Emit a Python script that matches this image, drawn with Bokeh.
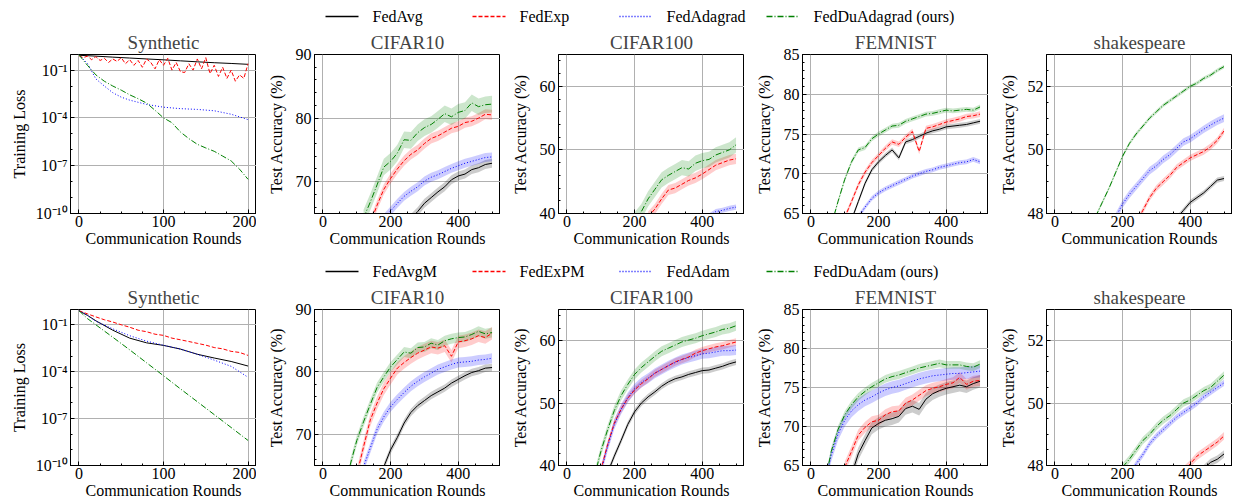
from bokeh.plotting import figure
from bokeh.layouts import column, row
from bokeh.models import (Range1d, SingleIntervalTicker, FixedTicker,
                          CustomJSTickFormatter)
from bokeh.core.properties import value
from bokeh.embed import file_html
from bokeh.resources import INLINE

FONT = "Liberation Serif"

# ---------------- labels ----------------
METHODS_TOP = ["FedAvg", "FedExp", "FedAdagrad", "FedDuAdagrad (ours)"]
METHODS_BOT = ["FedAvgM", "FedExPM", "FedAdam", "FedDuAdam (ours)"]
DATASETS = ["Synthetic", "CIFAR10", "CIFAR100", "FEMNIST", "shakespeare"]
COLORS = ["black", "#ff0000", "#0000ff", "#008000"]
DASHES = ["solid", "4 2", "1 2", "6 2 1 2"]

# ---------------- Synthetic (training loss, log scale) ----------------
SYN_TOP_R_FEDAVG = [0, 20, 40, 60, 80, 100, 120, 140, 160, 180, 200]
SYN_TOP_FEDAVG = [0.85, 0.75, 0.65, 0.57, 0.50, 0.44, 0.38, 0.33, 0.29, 0.26, 0.23]
SYN_TOP_R_FEDEXP = list(range(0, 201, 5))
SYN_TOP_FEDEXP = [0.8, 0.6, 0.75, 0.45, 0.7, 0.4, 0.55, 0.3, 0.5, 0.35, 0.6, 0.25, 0.45, 0.2,
                  0.4, 0.15, 0.5, 0.3, 0.12, 0.45, 0.2, 0.55, 0.1, 0.3, 0.08, 0.07, 0.25, 0.1,
                  0.5, 0.12, 0.6, 0.06, 0.2, 0.04, 0.15, 0.03, 0.1, 0.02, 0.05, 0.03, 0.25]
SYN_TOP_R_FEDADAGRAD = [0, 10, 20, 30, 40, 50, 60, 80, 100, 120, 140, 160, 180, 200]
SYN_TOP_FEDADAGRAD = [0.9, 0.26, 0.028, 0.01, 3.8e-3, 2e-3, 1.3e-3, 7e-4, 4.7e-4, 3.8e-4,
                      3.4e-4, 2.8e-4, 1.7e-4, 7.8e-5]
SYN_TOP_R_FEDDU = list(range(0, 201, 10))
SYN_TOP_FEDDU = [0.9, 0.2, 0.05, 0.02, 0.01, 5.5e-3, 2.8e-3, 1.6e-3, 8.5e-4, 3e-4, 1e-4,
                 5e-5, 1.3e-5, 5e-6, 2.2e-6, 1.3e-6, 8e-7, 4e-7, 2e-7, 6e-8, 1.4e-8]

SYN_BOT_R_FEDAVGM = [0, 10, 20, 40, 60, 80, 100, 120, 140, 160, 180, 200]
SYN_BOT_FEDAVGM = [0.8, 0.4, 0.18, 0.045, 0.014, 7e-3, 4.8e-3, 2.8e-3, 1.3e-3, 7.5e-4, 4.5e-4, 2.3e-4]
SYN_BOT_R_FEDEXPM = list(range(0, 201, 10))
SYN_BOT_FEDEXPM = [0.8, 0.5, 0.32, 0.21, 0.15, 0.1, 0.07, 0.045, 0.036, 0.025, 0.021, 0.014,
                   0.011, 8.5e-3, 6.5e-3, 5e-3, 3.5e-3, 2.9e-3, 2e-3, 1.7e-3, 1.1e-3]
SYN_BOT_R_FEDADAM = [0, 10, 20, 40, 60, 80, 100, 120, 140, 160, 180, 200]
SYN_BOT_FEDADAM = [0.8, 0.4, 0.17, 0.055, 0.02, 9e-3, 4.9e-3, 2.8e-3, 1.3e-3, 5.5e-4, 2.2e-4, 4.4e-5]
SYN_BOT_R_FEDDUADAM = [0, 10, 20, 40, 60, 80, 100, 120, 140, 160, 180, 200]
SYN_BOT_FEDDUADAM = [0.8, 0.25, 0.1, 0.016, 2.5e-3, 3.7e-4, 5.5e-5, 8e-6, 1.2e-6, 1.8e-7, 2.7e-8, 4e-9]

# ---------------- test accuracy (%), evaluated every 20 rounds ----------------
EVAL_EVERY = 20

# CIFAR10, top row  (FedAvg, FedExp, FedAdagrad, FedDuAdagrad)
C10_TOP_START = [260, 140, 180, 120]
C10_TOP_FEDAVG = [64.2, 65.3, 66.6, 67.5, 68.4, 69.2, 70.3, 70.9, 71.2, 71.9, 72.2, 72.7, 72.9]
C10_TOP_FEDEXP = [63.5, 66.3, 68.8, 70.5, 72.0, 73.3, 74.3, 75.0, 76.0, 76.8, 77.2, 77.8, 78.4,
                  78.7, 79.3, 79.5, 80.0, 80.6, 80.5]
C10_TOP_FEDADAGRAD = [64.2, 65.4, 66.6, 67.7, 68.5, 69.2, 70.1, 70.7, 71.1, 71.6, 72.1, 72.5,
                      72.9, 73.2, 73.5, 73.8, 73.9]
C10_TOP_FEDDU = [64.3, 66.8, 69.5, 72.3, 73.2, 74.5, 76.6, 76.5, 77.7, 78.5, 79.0, 79.8, 80.7,
                 80.2, 80.9, 81.2, 82.4, 81.8, 82.1, 82.2]
C10_TOP_BAND = [0.7, 0.8, 0.7, 1.3]

# CIFAR100, top row
C100_TOP_START = [300, 240, 400, 200]
C100_TOP_FEDAVG = [34.0, 34.8, 35.5, 36.1, 36.6, 37.0, 37.4, 37.8, 38.1, 38.4, 38.6]
C100_TOP_FEDEXP = [39.5, 40.7, 42.3, 43.7, 44.0, 44.6, 45.2, 45.6, 46.2, 46.9, 47.6, 48.0, 48.4, 48.6]
C100_TOP_FEDADAGRAD = [39.0, 39.6, 40.3, 40.5, 40.8, 41.0]
C100_TOP_FEDDU = [39.0, 40.3, 42.3, 43.8, 45.3, 46.0, 46.6, 47.2, 47.0, 47.9, 48.3, 48.5, 49.2,
                  49.6, 50.0, 50.8]
C100_TOP_BAND = [0.5, 0.8, 0.4, 1.2]

# FEMNIST, top row
FEM_TOP_START = [120, 100, 140, 60]
FEM_TOP_FEDAVG = [64.2, 66.5, 68.8, 70.5, 71.5, 72.3, 73.0, 72.0, 74.0, 74.3, 74.7, 75.1, 75.4,
                  75.6, 75.9, 76.0, 76.1, 76.2, 76.4, 76.6]
FEM_TOP_FEDEXP = [64.5, 66.5, 68.6, 70.2, 71.4, 72.3, 73.2, 74.0, 73.7, 74.6, 75.3, 72.8, 75.7,
                  75.9, 76.2, 76.5, 76.7, 76.9, 77.2, 77.3, 77.5]
FEM_TOP_FEDADAGRAD = [64.6, 65.8, 66.9, 67.6, 68.1, 68.5, 68.9, 69.3, 69.7, 70.0, 70.3, 70.5,
                      70.8, 71.0, 71.2, 71.4, 71.5, 71.8, 71.5]
FEM_TOP_FEDDU = [63.5, 66.5, 69.3, 71.5, 73.0, 73.3, 74.4, 75.0, 75.5, 76.0, 76.1, 76.6, 76.9,
                 77.2, 77.5, 77.6, 77.8, 78.0, 77.9, 78.0, 78.1, 78.0, 78.4]
FEM_TOP_BAND = [0.3, 0.35, 0.3, 0.3]

# shakespeare, top row
SH_TOP_START = [360, 240, 180, 120]
SH_TOP_FEDAVG = [47.85, 48.1, 48.35, 48.5, 48.65, 48.85, 49.05, 49.1]
SH_TOP_FEDEXP = [47.7, 48.1, 48.5, 48.8, 49.0, 49.2, 49.45, 49.6, 49.75, 49.85, 49.95, 50.1,
                 50.3, 50.6]
SH_TOP_FEDADAGRAD = [47.9, 48.3, 48.6, 48.85, 49.1, 49.35, 49.5, 49.7, 49.85, 50.05, 50.25,
                     50.35, 50.5, 50.65, 50.78, 50.9, 51.0]
SH_TOP_FEDDU = [47.9, 48.35, 48.8, 49.3, 49.8, 50.2, 50.5, 50.75, 51.0, 51.2, 51.4, 51.55, 51.7,
                51.85, 52.0, 52.1, 52.25, 52.35, 52.5, 52.62]
SH_TOP_BAND = [0.08, 0.1, 0.12, 0.06]

# CIFAR10, bottom row (FedAvgM, FedExPM, FedAdam, FedDuAdam)
C10_BOT_START = [180, 100, 120, 80]
C10_BOT_FEDAVGM = [64.8, 67.5, 69.5, 71.8, 73.5, 74.6, 75.4, 76.2, 76.8, 77.4, 78.2, 78.8, 79.4,
                   79.9, 80.2, 80.6, 80.7]
C10_BOT_FEDEXPM = [63.5, 68.0, 72.3, 75.0, 77.3, 79.0, 80.6, 81.5, 82.3, 83.0, 83.5, 84.0, 83.8,
                   84.2, 82.5, 84.8, 85.0, 85.3, 85.8, 85.5, 86.2]
C10_BOT_FEDADAM = [64.8, 67.8, 70.8, 72.8, 74.4, 75.6, 76.7, 77.7, 78.5, 79.2, 79.8, 80.4, 80.8,
                   81.2, 81.5, 81.6, 81.7, 81.9, 82.0, 82.2]
C10_BOT_FEDDU = [65.0, 69.0, 72.0, 74.8, 77.5, 79.2, 80.8, 82.0, 83.2, 83.0, 83.9, 84.0, 84.6,
                 84.3, 85.0, 85.3, 85.5, 85.6, 86.0, 86.5, 86.1, 86.3]
C10_BOT_BAND = [0.6, 1.0, 0.8, 0.8]

# CIFAR100, bottom row
C100_BOT_START = [120, 100, 100, 80]
C100_BOT_FEDAVGM = [38.8, 41.5, 44.0, 46.6, 48.6, 50.0, 51.0, 51.8, 52.7, 53.4, 53.9, 54.2, 54.6,
                    54.9, 55.2, 55.3, 55.6, 55.9, 56.3, 56.6]
C100_BOT_FEDEXPM = [39.2, 43.3, 46.8, 49.0, 50.8, 52.1, 53.1, 53.9, 54.8, 55.4, 56.0, 56.6, 57.0,
                    57.4, 58.0, 58.4, 58.7, 59.0, 59.2, 59.5, 59.8]
C100_BOT_FEDADAM = [39.0, 43.0, 46.6, 49.0, 50.9, 52.3, 53.3, 54.0, 54.8, 55.4, 56.0, 56.5, 57.0,
                    57.3, 57.6, 57.9, 58.0, 58.2, 58.4, 58.4, 58.5]
C100_BOT_FEDDU = [38.0, 42.2, 45.7, 48.8, 51.2, 53.0, 54.6, 55.7, 56.6, 57.5, 58.3, 58.8, 59.3,
                  59.8, 60.1, 60.4, 60.8, 61.1, 61.4, 61.8, 62.0, 62.4]
C100_BOT_BAND = [0.5, 0.6, 0.8, 0.8]

# FEMNIST, bottom row
FEM_BOT_START = [120, 100, 40, 40]
FEM_BOT_FEDAVGM = [63.8, 66.5, 68.2, 69.8, 70.4, 70.8, 71.0, 71.3, 72.3, 72.6, 72.2, 73.5, 74.2,
                   74.6, 74.9, 75.1, 75.3, 75.1, 75.5, 75.8]
FEM_BOT_FEDEXPM = [64.8, 66.8, 68.9, 69.9, 70.6, 70.8, 71.5, 71.9, 72.0, 73.0, 73.4, 74.0, 74.6,
                   74.9, 75.1, 75.4, 75.6, 76.3, 75.4, 75.8, 75.9]
FEM_BOT_FEDADAM = [62.5, 66.3, 69.0, 70.8, 72.0, 72.8, 73.4, 73.8, 74.3, 74.7, 75.0, 75.2, 75.5,
                   75.8, 76.1, 76.3, 76.5, 76.6, 76.7, 76.8, 76.8, 76.9, 77.0, 77.1]
FEM_BOT_FEDDU = [62.5, 66.8, 69.6, 71.5, 72.8, 73.8, 74.5, 75.1, 75.6, 76.1, 76.4, 76.6, 76.9,
                 77.2, 77.5, 77.7, 77.9, 78.1, 77.9, 77.9, 77.9, 77.7, 77.6, 78.0]
FEM_BOT_BAND = [0.8, 0.7, 0.8, 0.5]

# shakespeare, bottom row
SH_BOT_START = [440, 380, 220, 200]
SH_BOT_FEDAVGM = [47.9, 48.1, 48.2, 48.37]
SH_BOT_FEDEXPM = [47.85, 48.05, 48.3, 48.45, 48.6, 48.75, 48.95]
SH_BOT_FEDADAM = [47.7, 48.05, 48.35, 48.7, 48.95, 49.15, 49.35, 49.55, 49.7, 49.85, 50.0, 50.2,
                  50.35, 50.5, 50.65]
SH_BOT_FEDDU = [47.95, 48.2, 48.5, 48.8, 49.0, 49.25, 49.45, 49.6, 49.8, 50.0, 50.1, 50.25, 50.4,
                50.5, 50.7, 50.9]
SH_BOT_BAND = [0.12, 0.12, 0.1, 0.12]

# ---------------- layout constants ----------------
W_FIRST, W_OTHER = 256, 244
LEFT_FIRST, LEFT_OTHER = 70, 58
TOTAL_W = W_FIRST + 4 * W_OTHER
LEG_X0, LEG_STEP, LEG_SAMPLE, LEG_GAP = 325, 147, 33, 14

LOG_FMT = CustomJSTickFormatter(code="""
const sup = {'0':'\u2070','1':'\u00b9','2':'\u00b2','3':'\u00b3','4':'\u2074','5':'\u2075',
             '6':'\u2076','7':'\u2077','8':'\u2078','9':'\u2079','-':'\u207b'};
const e = Math.round(Math.log10(tick));
return '10' + String(e).split('').map(c => sup[c]).join('');
""")


def style(p, ylabel, ystand):
    p.title.text_font = FONT
    p.title.text_font_size = "19px"
    p.title.text_font_style = "normal"
    p.title.align = "center"
    p.title.standoff = 3
    for ax in p.axis:
        ax.major_label_text_font = FONT
        ax.major_label_text_font_size = "16px"
        ax.major_label_text_color = "black"
        ax.axis_label_text_font = FONT
        ax.axis_label_text_font_size = "16px"
        ax.axis_label_text_font_style = "normal"
        ax.axis_label_text_color = "black"
        ax.major_tick_in = 4
        ax.major_tick_out = 0
        ax.minor_tick_in = 2
        ax.minor_tick_out = 0
        ax.axis_line_color = "black"
        ax.major_tick_line_color = "black"
        ax.minor_tick_line_color = "black"
    p.xaxis.major_label_standoff = 2
    p.yaxis.major_label_standoff = 3
    p.xaxis.axis_label = "Communication Rounds"
    p.xaxis.axis_label_standoff = 0
    p.yaxis.axis_label = ylabel
    p.yaxis.axis_label_standoff = ystand
    p.grid.grid_line_color = "#b0b0b0"
    p.grid.grid_line_width = 1
    p.outline_line_color = "black"
    p.outline_line_alpha = 1
    p.outline_line_width = 1


def make_syn(title, rounds_list, vals_list, h, top, bottom):
    p = figure(width=W_FIRST, height=h, title=title, y_axis_type="log",
               x_range=Range1d(-10, 210), y_range=Range1d(1e-10, 0.95),
               output_backend="svg", toolbar_location=None,
               min_border_left=LEFT_FIRST, min_border_right=0,
               min_border_top=top, min_border_bottom=bottom)
    p.xaxis.ticker = SingleIntervalTicker(interval=100, num_minor_ticks=4)
    p.yaxis.ticker = FixedTicker(ticks=[1e-10, 1e-7, 1e-4, 1e-1],
                                 minor_ticks=[10.0 ** (-k) for k in range(0, 11)])
    p.yaxis.formatter = LOG_FMT
    style(p, "Training Loss", 5)
    for r, v, c, d in zip(rounds_list, vals_list, COLORS, DASHES):
        p.line(r, v, line_color=c, line_dash=d, line_width=1)
    return p


def make_acc(title, yr, yint, ymin, starts, vals_list, bands, h, top, bottom):
    p = figure(width=W_OTHER, height=h, title=title,
               x_range=Range1d(-25, 525), y_range=Range1d(*yr),
               output_backend="svg", toolbar_location=None,
               min_border_left=LEFT_OTHER, min_border_right=0,
               min_border_top=top, min_border_bottom=bottom)
    p.xaxis.ticker = SingleIntervalTicker(interval=200, num_minor_ticks=4)
    p.yaxis.ticker = SingleIntervalTicker(interval=yint, num_minor_ticks=ymin)
    style(p, "Test Accuracy (%)", 8)
    for s, v, b, c in zip(starts, vals_list, bands, COLORS):
        x = [s + EVAL_EVERY * i for i in range(len(v))]
        p.varea(x=x, y1=[a - b for a in v], y2=[a + b for a in v],
                fill_color=c, fill_alpha=0.2)
    for s, v, c, d in zip(starts, vals_list, COLORS, DASHES):
        x = [s + EVAL_EVERY * i for i in range(len(v))]
        p.line(x, v, line_color=c, line_dash=d, line_width=1)
    return p


def legend_fig(names, h, yc):
    """Row-wide legend strip; the frame spans the whole strip in pixel units."""
    p = figure(width=TOTAL_W, height=h, x_range=Range1d(0, TOTAL_W), y_range=Range1d(0, h),
               output_backend="svg", toolbar_location=None, min_border=0,
               x_axis_location=None, y_axis_location=None)
    p.grid.visible = False
    p.outline_line_color = None
    xs = [LEG_X0 + i * LEG_STEP for i in range(len(names))]
    for x0, c, d in zip(xs, COLORS, DASHES):
        p.line([x0, x0 + LEG_SAMPLE], [yc, yc], line_color=c, line_alpha=1.0,
               line_dash=d, line_width=1.5)
    p.text(x=[x0 + LEG_SAMPLE + LEG_GAP for x0 in xs], y=[yc] * len(names), text=names,
           text_font=value(FONT), text_font_size="16px", text_color="black",
           text_baseline="middle", text_align="left")
    return p


H1, T1, B1 = 229, 23, 44
H2, T2, B2 = 220, 23, 38

row1 = [
    make_syn("Synthetic",
             [SYN_TOP_R_FEDAVG, SYN_TOP_R_FEDEXP, SYN_TOP_R_FEDADAGRAD, SYN_TOP_R_FEDDU],
             [SYN_TOP_FEDAVG, SYN_TOP_FEDEXP, SYN_TOP_FEDADAGRAD, SYN_TOP_FEDDU], H1, T1, B1),
    make_acc("CIFAR10", (65, 90), 10, 5, C10_TOP_START,
             [C10_TOP_FEDAVG, C10_TOP_FEDEXP, C10_TOP_FEDADAGRAD, C10_TOP_FEDDU],
             C10_TOP_BAND, H1, T1, B1),
    make_acc("CIFAR100", (40, 65), 10, 5, C100_TOP_START,
             [C100_TOP_FEDAVG, C100_TOP_FEDEXP, C100_TOP_FEDADAGRAD, C100_TOP_FEDDU],
             C100_TOP_BAND, H1, T1, B1),
    make_acc("FEMNIST", (65, 85), 5, 5, FEM_TOP_START,
             [FEM_TOP_FEDAVG, FEM_TOP_FEDEXP, FEM_TOP_FEDADAGRAD, FEM_TOP_FEDDU],
             FEM_TOP_BAND, H1, T1, B1),
    make_acc("shakespeare", (48, 53), 2, 4, SH_TOP_START,
             [SH_TOP_FEDAVG, SH_TOP_FEDEXP, SH_TOP_FEDADAGRAD, SH_TOP_FEDDU],
             SH_TOP_BAND, H1, T1, B1),
]
row2 = [
    make_syn("Synthetic",
             [SYN_BOT_R_FEDAVGM, SYN_BOT_R_FEDEXPM, SYN_BOT_R_FEDADAM, SYN_BOT_R_FEDDUADAM],
             [SYN_BOT_FEDAVGM, SYN_BOT_FEDEXPM, SYN_BOT_FEDADAM, SYN_BOT_FEDDUADAM], H2, T2, B2),
    make_acc("CIFAR10", (65, 90), 10, 5, C10_BOT_START,
             [C10_BOT_FEDAVGM, C10_BOT_FEDEXPM, C10_BOT_FEDADAM, C10_BOT_FEDDU],
             C10_BOT_BAND, H2, T2, B2),
    make_acc("CIFAR100", (40, 65), 10, 5, C100_BOT_START,
             [C100_BOT_FEDAVGM, C100_BOT_FEDEXPM, C100_BOT_FEDADAM, C100_BOT_FEDDU],
             C100_BOT_BAND, H2, T2, B2),
    make_acc("FEMNIST", (65, 85), 5, 5, FEM_BOT_START,
             [FEM_BOT_FEDAVGM, FEM_BOT_FEDEXPM, FEM_BOT_FEDADAM, FEM_BOT_FEDDU],
             FEM_BOT_BAND, H2, T2, B2),
    make_acc("shakespeare", (48, 53), 2, 4, SH_BOT_START,
             [SH_BOT_FEDAVGM, SH_BOT_FEDEXPM, SH_BOT_FEDADAM, SH_BOT_FEDDU],
             SH_BOT_BAND, H2, T2, B2),
]

layout = column(legend_fig(METHODS_TOP, 28, 12), row(*row1),
                legend_fig(METHODS_BOT, 26, 12), row(*row2))

open("out.html", "w").write(file_html(layout, INLINE))
